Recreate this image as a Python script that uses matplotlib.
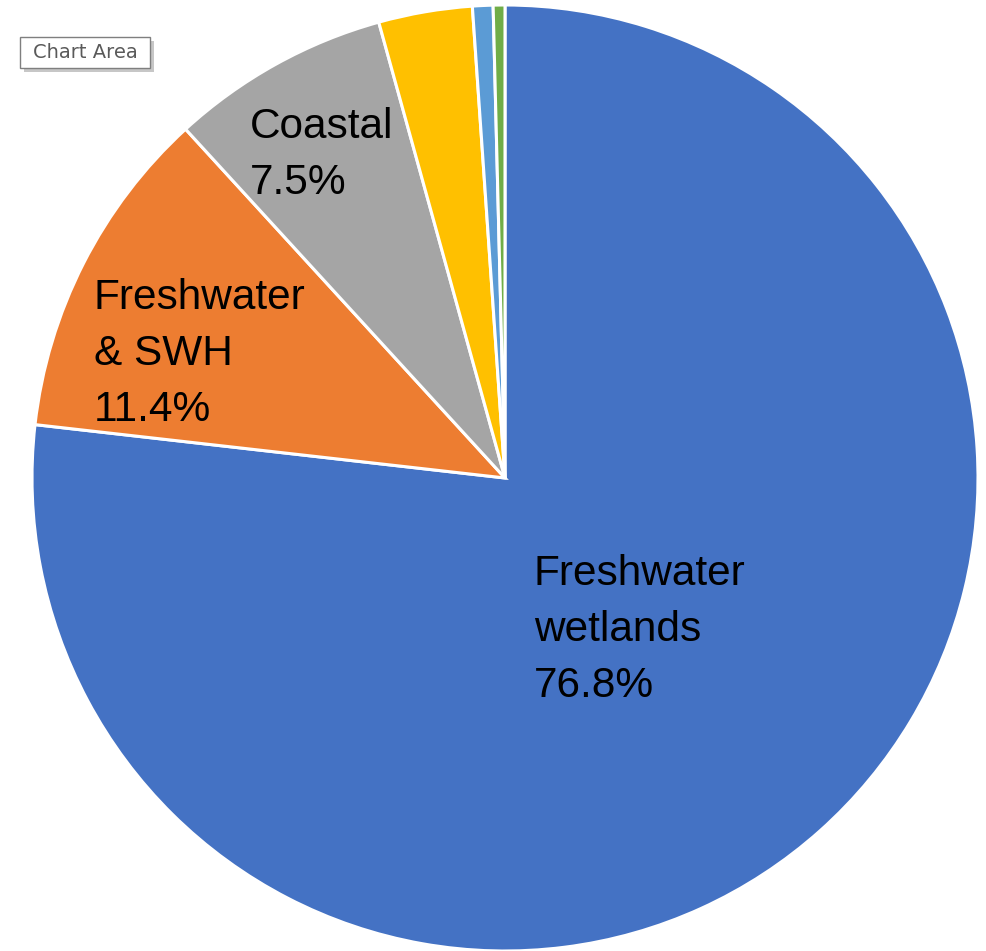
import matplotlib
matplotlib.use("Agg")
import matplotlib.pyplot as plt
from matplotlib.patches import Rectangle

# Share of area by wetland category (%)
categories = ["Freshwater wetlands", "Freshwater & SWH", "Coastal", "Other 1", "Other 2", "Other 3"]
values = [76.8, 11.4, 7.5, 3.2, 0.7, 0.4]
label_texts = ["Freshwater\nwetlands\n76.8%", "Freshwater\n& SWH\n11.4%", "Coastal\n7.5%", "", "", ""]
colors = ["#4472C4", "#ED7D31", "#A5A5A5", "#FFC000", "#5B9BD5", "#70AD47"]

# label anchor (left edge, vertical centre) in pie units (radius = 1)
label_pos = [(0.061, -0.321), (-0.869, 0.262), (-0.539, 0.682)]

W, H = 987, 951
cx, cy, R = 505, 478, 473

fig = plt.figure(figsize=(W / 100, H / 100), dpi=100)
ax = fig.add_axes([0, 0, 1, 1])
ax.pie(values, colors=colors, startangle=90, counterclock=False, radius=1,
       wedgeprops=dict(edgecolor="white", linewidth=2.2))
ax.set_xlim(-cx / R, (W - cx) / R)
ax.set_ylim(-(H - cy) / R, cy / R)
ax.set_aspect("auto")
ax.axis("off")

for txt, (x, y) in zip(label_texts, label_pos):
    ax.text(x, y, txt, ha="left", va="center", fontsize=30.5,
            family="Liberation Sans", linespacing=1.52, color="black")

# Excel "Chart Area" tooltip (with drop shadow)
def px_rect(x0, y0, x1, y1, **kw):
    return Rectangle((x0 / W, 1 - y1 / H), (x1 - x0) / W, (y1 - y0) / H,
                     transform=fig.transFigure, **kw)

fig.patches.append(px_rect(24, 41, 154, 72, facecolor="#b0b0b0", edgecolor="none", alpha=0.7))
fig.patches.append(px_rect(20, 37, 150, 68, facecolor="white", edgecolor="#7f7f7f", linewidth=1))
fig.text(85 / W, 1 - 52.5 / H, "Chart Area", ha="center", va="center", fontsize=14,
         color="#5a5a5a", family="DejaVu Sans")

fig.savefig("out.png", dpi=100)
